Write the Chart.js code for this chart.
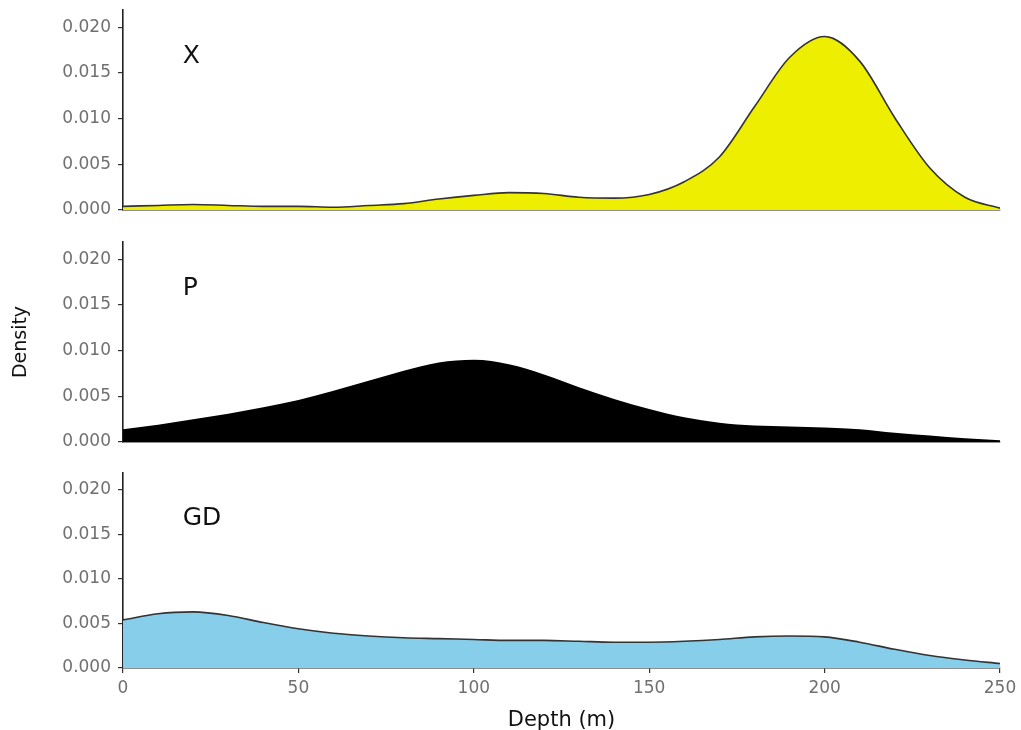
<!DOCTYPE html>
<html>
<head>
<meta charset="utf-8">
<script src="https://cdn.jsdelivr.net/npm/chart.js@4.4.0/dist/chart.umd.min.js"></script>
<style>
  html, body { margin: 0; padding: 0; background: #fff; overflow: hidden; }
  #wrap { position: relative; width: 1021px; height: 730px; }
  .panel { position: absolute; left: 0; width: 1021px; }
</style>
</head>
<body>
<div id="wrap">
  <div class="panel" style="top:0px;height:215px"><canvas id="c0"></canvas></div>
  <div class="panel" style="top:232px;height:215px"><canvas id="c1"></canvas></div>
  <div class="panel" style="top:463px;height:270px"><canvas id="c2"></canvas></div>
</div>
<script>
// depth (m) sampled every 10 m
const depth = [0, 10, 20, 30, 40, 50, 60, 70, 80, 90, 100, 110, 120, 130, 140, 150, 160, 170, 180, 190, 200, 210, 220, 230, 240, 250];

// density estimates
const xDensity = [0.0004, 0.0005, 0.0006, 0.0005, 0.0004, 0.0004, 0.0003, 0.0005, 0.0007, 0.0012, 0.0016, 0.0019, 0.0018, 0.0014, 0.0013, 0.0017, 0.0031, 0.0058, 0.0113, 0.0167, 0.0190, 0.0163, 0.0101, 0.0046, 0.0014, 0.0002];
const pDensity = [0.0014, 0.0019, 0.0025, 0.0031, 0.0038, 0.0046, 0.0056, 0.0067, 0.0078, 0.0087, 0.0090, 0.0085, 0.0074, 0.0060, 0.0047, 0.0036, 0.0027, 0.0021, 0.0018, 0.0017, 0.0016, 0.0014, 0.0010, 0.0007, 0.0004, 0.0002];
const gdDensity = [0.0054, 0.0061, 0.0063, 0.0059, 0.0051, 0.0044, 0.0039, 0.0036, 0.0034, 0.0033, 0.0032, 0.0031, 0.0031, 0.0030, 0.0029, 0.0029, 0.0030, 0.0032, 0.0035, 0.0036, 0.0035, 0.0029, 0.0021, 0.0014, 0.0009, 0.0005];

const panelNames = ['X', 'P', 'GD'];
const panelFills = ['#eeee00', '#000000', '#87ceeb'];
const panelLines = ['#333333', '#000000', '#333333'];
const yTicks = [0, 0.005, 0.010, 0.015, 0.020];
const xTicks = [0, 50, 100, 150, 200, 250];
const yMax = 0.0219;
const labelAt = { depth: 17, density: 0.0168 };

const FONT = "'DejaVu Sans', sans-serif";

const panelLabel = {
  id: 'panelLabel',
  afterDatasetsDraw(chart, args, opts) {
    const { ctx, scales } = chart;
    ctx.save();
    ctx.font = '25px ' + FONT;
    ctx.fillStyle = '#111';
    ctx.textAlign = 'left';
    ctx.textBaseline = 'middle';
    ctx.fillText(opts.text, scales.x.getPixelForValue(labelAt.depth), scales.y.getPixelForValue(labelAt.density));
    ctx.restore();
  }
};

// keep the plot area fixed, no extra room for label overhang
function noPad(s) {
  s.paddingTop = 0;
  s.paddingBottom = 0;
  s.paddingLeft = 0;
  s.paddingRight = 0;
}

function makePanel(id, idx, values, bottom) {
  const ctx = document.getElementById(id).getContext('2d');
  return new Chart(ctx, {
    type: 'line',
    data: {
      datasets: [{
        data: depth.map((d, i) => ({ x: d, y: values[i] })),
        fill: 'origin',
        backgroundColor: panelFills[idx],
        borderColor: panelLines[idx],
        borderWidth: idx === 1 ? 0 : 1.6,
        pointRadius: 0,
        cubicInterpolationMode: 'monotone',
      }],
    },
    options: {
      responsive: true,
      maintainAspectRatio: false,
      animation: false,
      layout: { padding: { top: 10, right: 21, left: 0, bottom: 0 } },
      plugins: {
        legend: { display: false },
        tooltip: { enabled: false },
        panelLabel: { text: panelNames[idx] },
      },
      scales: {
        x: {
          type: 'linear',
          min: 0,
          max: 250,
          z: 1,
          afterBuildTicks: s => { s.ticks = xTicks.map(v => ({ value: v })); },
          afterFit: s => { s.height = bottom ? 65 : 5; noPad(s); },
          border: { display: true, color: '#222', width: 1.6 },
          grid: { display: bottom, drawOnChartArea: false, tickLength: 5, color: '#333', lineWidth: 1.2 },
          ticks: { display: bottom, padding: 5, color: '#707070', font: { family: FONT, size: 17 } },
          title: {
            display: bottom,
            text: 'Depth (m)',
            color: '#111',
            font: { family: FONT, size: 21 },
            padding: { top: 0, bottom: 0 },
          },
        },
        y: {
          min: 0,
          max: yMax,
          z: 1,
          afterBuildTicks: s => { s.ticks = yTicks.map(v => ({ value: v })); },
          afterFit: s => { s.width = 123; noPad(s); },
          border: { display: true, color: '#222', width: 1.6 },
          grid: { drawOnChartArea: false, tickLength: 5, color: '#333', lineWidth: 1.2 },
          ticks: {
            padding: 7,
            color: '#707070',
            font: { family: FONT, size: 17 },
            callback: v => Number(v).toFixed(3),
          },
          title: {
            display: idx === 1,
            text: 'Density',
            color: '#111',
            font: { family: FONT, size: 19 },
            padding: { top: 10, bottom: 0 },
          },
        },
      },
    },
    plugins: [panelLabel],
  });
}

makePanel('c0', 0, xDensity, false);
makePanel('c1', 1, pDensity, false);
makePanel('c2', 2, gdDensity, true);
</script>
</body>
</html>
